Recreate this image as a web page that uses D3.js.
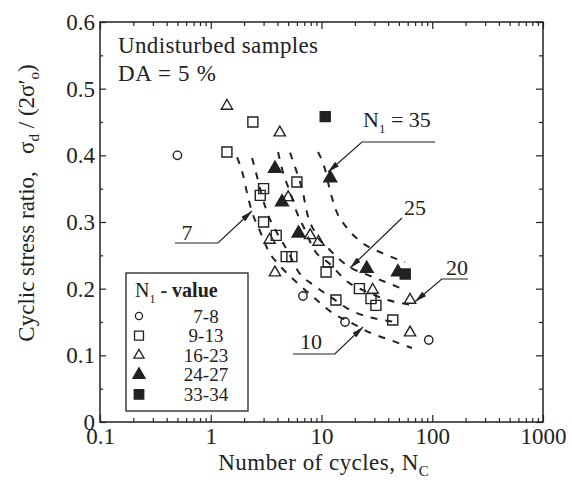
<!DOCTYPE html>
<html>
<head>
<meta charset="utf-8">
<script src="https://cdn.jsdelivr.net/npm/d3@7"></script>
<style>
body { margin: 0; background: #fff; }
text { font-family: "Liberation Serif", "Times New Roman", serif; fill: #222; }
</style>
</head>
<body>
<svg id="chart" width="572" height="485"></svg>
<script>
// tick values
const decades = [0.1, 1, 10, 100, 1000];
const ratioTicks = [0, 0.1, 0.2, 0.3, 0.4, 0.5, 0.6];

// data: [N cycles, stress ratio]
const nl7to8 = [[0.5, 0.40], [6.8, 0.189], [16.3, 0.150], [93, 0.123]];
const nl9to13 = [[1.4, 0.405], [2.4, 0.45], [2.8, 0.34], [3.0, 0.35], [3.0, 0.30], [3.9, 0.28],
	[4.8, 0.248], [5.4, 0.248], [6.0, 0.36], [11.5, 0.24], [11, 0.225], [13.5, 0.183],
	[22, 0.20], [28, 0.185], [31, 0.175], [44, 0.153]];
const nl16to23 = [[1.4, 0.474], [4.2, 0.434], [5.0, 0.337], [3.4, 0.273], [3.8, 0.224],
	[7.9, 0.28], [9.4, 0.27], [29, 0.198], [63, 0.183], [63, 0.134]];
const nl24to27 = [[3.8, 0.38], [4.4, 0.33], [6.2, 0.283], [12, 0.366], [25.6, 0.23], [49, 0.225]];
const nl33to34 = [[10.8, 0.458], [57, 0.222]];

const legendLabels = ["7-8", "9-13", "16-23", "24-27", "33-34"];

// dashed trend curves
const curveA = [[1.73, 0.397], [1.96, 0.370], [2.13, 0.343], [2.36, 0.315], [2.79, 0.286], [3.29, 0.258],
	[4.4, 0.231], [6.1, 0.208], [8.9, 0.184], [12.7, 0.163], [18.1, 0.150], [27.4, 0.134], [41.6, 0.123], [65.6, 0.111]];
const curveB = [[2.36, 0.396], [2.62, 0.368], [2.90, 0.339], [3.29, 0.311], [4.05, 0.281], [5.0, 0.255],
	[6.1, 0.227], [8.9, 0.203], [12.7, 0.185], [18.1, 0.168], [29.2, 0.156], [46, 0.15]];
const curveC = [[4.05, 0.405], [4.5, 0.374], [5.2, 0.345], [6.0, 0.314], [7.1, 0.288], [8.4, 0.261],
	[11.9, 0.237], [17.3, 0.21], [25.8, 0.195], [39.8, 0.183], [63, 0.176]];
const curveD = [[5.2, 0.404], [6.0, 0.374], [6.8, 0.344], [7.4, 0.314], [8.7, 0.285], [11.9, 0.258],
	[17.3, 0.234], [25.8, 0.221], [39, 0.209], [56.8, 0.198]];
const curveE = [[9.3, 0.405], [10.8, 0.378], [11.9, 0.348], [13.5, 0.318], [17, 0.291], [23.7, 0.268],
	[35.9, 0.253], [56.8, 0.24]];

// curve labels: text position and leader line (last point = arrow tip)
const labelText = ["7", "25", "20", "10"];
const labelPos = [[0.61, 0.273], [69.9, 0.3105], [167, 0.2205], [8.04, 0.1095]];
const labelLeaders = [
	[[0.475, 0.2685], [1.163, 0.2685], [2.357, 0.3165]],
	[[53.3, 0.306], [18.1, 0.231]],
	[[210, 0.2145], [122, 0.2145], [69.9, 0.1805]],
	[[5.53, 0.102], [13.2, 0.102], [23.7, 0.1425]]
];
const n35Pos = [23.7, 0.4425];
const n35Leader = [[106, 0.42], [23.2, 0.42], [11.45, 0.375]];

const svg = d3.select("#chart");
const width = +svg.attr("width");
const height = +svg.attr("height");
const margins = { top: 22, right: 29, bottom: 63, left: 100 };
const ink = "#222";

const x = d3.scaleLog().domain([0.1, 1000]).range([margins.left, width - margins.right]);
const y = d3.scaleLinear().domain([0, 0.6]).range([height - margins.bottom, margins.top]);

const minorX = x.ticks().filter((d) => !decades.includes(d));
const minorY = d3.range(0.05, 0.6, 0.1);

// axes: ticks point inwards on all four sides
const addAxis = function (axis, tx, ty) {
	const g = svg.append("g").attr("transform", "translate(" + tx + "," + ty + ")").call(axis);
	g.select(".domain").remove();
	g.selectAll("line").attr("stroke", ink).attr("stroke-width", 1.2);
	g.selectAll("text").attr("font-size", 23).attr("fill", ink).style("font-family", null);
	return g;
};
const yb = height - margins.bottom;
const xr = width - margins.right;

addAxis(d3.axisBottom(x).tickValues(decades).tickSizeInner(-7).tickSizeOuter(0).tickPadding(6)
	.tickFormat(d3.format("~g")), 0, yb);
addAxis(d3.axisBottom(x).tickValues(minorX).tickSizeInner(-4).tickSizeOuter(0).tickFormat(""), 0, yb);
addAxis(d3.axisTop(x).tickValues(decades).tickSizeInner(-7).tickSizeOuter(0).tickFormat(""), 0, margins.top);
addAxis(d3.axisTop(x).tickValues(minorX).tickSizeInner(-4).tickSizeOuter(0).tickFormat(""), 0, margins.top);
addAxis(d3.axisLeft(y).tickValues(ratioTicks).tickSizeInner(-6).tickSizeOuter(0).tickPadding(5)
	.tickFormat(d3.format("~g")), margins.left, 0);
addAxis(d3.axisLeft(y).tickValues(minorY).tickSizeInner(-3).tickSizeOuter(0).tickFormat(""), margins.left, 0);
addAxis(d3.axisRight(y).tickValues(ratioTicks).tickSizeInner(-7).tickSizeOuter(0).tickFormat(""), xr, 0);
addAxis(d3.axisRight(y).tickValues(minorY).tickSizeInner(-4).tickSizeOuter(0).tickFormat(""), xr, 0);

svg.append("rect")
	.attr("x", margins.left).attr("y", margins.top)
	.attr("width", xr - margins.left).attr("height", yb - margins.top)
	.attr("fill", "none").attr("stroke", ink).attr("stroke-width", 1.5);

// axis titles
const xTitle = svg.append("text").attr("x", (margins.left + xr) / 2 + 2).attr("y", 470)
	.attr("text-anchor", "middle").attr("font-size", 23);
xTitle.append("tspan").attr("textLength", 200).text("Number of cycles, N");
xTitle.append("tspan").attr("font-size", 15).attr("dy", 6).text("C");

const yTitle = svg.append("text").attr("transform", "translate(34,203) rotate(-90)")
	.attr("text-anchor", "middle").attr("font-size", 23);
yTitle.append("tspan").text("Cyclic stress ratio,\u00a0\u00a0 σ");
yTitle.append("tspan").attr("font-size", 15).attr("dy", 5).text("d");
yTitle.append("tspan").attr("dy", -5).text(" / (2σ′");
yTitle.append("tspan").attr("font-size", 15).attr("dy", 5).text("o");
yTitle.append("tspan").attr("dy", -5).text(")");

// in-plot header
svg.append("text").attr("x", 118).attr("y", 53).attr("font-size", 23)
	.attr("textLength", 200).text("Undisturbed samples");
svg.append("text").attr("x", 118).attr("y", 81).attr("font-size", 23)
	.attr("textLength", 98).text("DA = 5 %");

// dashed curves
const line = d3.line().x((d) => x(d[0])).y((d) => y(d[1])).curve(d3.curveMonotoneX);
svg.append("g")
	.selectAll("path")
	.data([curveA, curveB, curveC, curveD, curveE])
	.join("path")
	.attr("d", line)
	.attr("fill", "none")
	.attr("stroke", ink)
	.attr("stroke-width", 2)
	.attr("stroke-dasharray", "7,8");

// markers
const symCircle = d3.symbol(d3.symbolCircle, 55)();
const symSquare = d3.symbol(d3.symbolSquare, 100)();
const symTri = d3.symbol(d3.symbolTriangle, 55)();
const symTriBig = d3.symbol(d3.symbolTriangle, 72)();
const series = [
	{ data: nl7to8, path: symCircle, fill: "#fff" },
	{ data: nl9to13, path: symSquare, fill: "#fff" },
	{ data: nl16to23, path: symTri, fill: "#fff" },
	{ data: nl24to27, path: symTriBig, fill: ink },
	{ data: nl33to34, path: symSquare, fill: ink }
];
series.forEach((s) => {
	svg.append("g")
		.selectAll("path")
		.data(s.data)
		.join("path")
		.attr("d", s.path)
		.attr("transform", (d) => "translate(" + x(d[0]) + "," + y(d[1]) + ")")
		.attr("fill", s.fill)
		.attr("fill-opacity", s.fill === ink ? 1 : 0)
		.attr("stroke", ink)
		.attr("stroke-width", 1.4);
});

// curve labels with arrows
svg.append("defs").append("marker")
	.attr("id", "arrow")
	.attr("markerUnits", "userSpaceOnUse")
	.attr("viewBox", "0 0 12 6")
	.attr("markerWidth", 12).attr("markerHeight", 6)
	.attr("refX", 12).attr("refY", 3)
	.attr("orient", "auto")
	.append("path").attr("d", "M0,0L12,3L0,6z").attr("fill", ink);

const leaderLine = d3.line().x((d) => x(d[0])).y((d) => y(d[1]));
labelLeaders.concat([n35Leader]).forEach((pts) => {
	svg.append("path")
		.attr("d", leaderLine(pts))
		.attr("fill", "none")
		.attr("stroke", ink)
		.attr("stroke-width", 1.2)
		.attr("marker-end", "url(#arrow)");
});
svg.append("g")
	.selectAll("text")
	.data(labelText)
	.join("text")
	.attr("x", (d, i) => x(labelPos[i][0]))
	.attr("y", (d, i) => y(labelPos[i][1]))
	.attr("text-anchor", "middle")
	.attr("font-size", 22)
	.text((d) => d);

const n35 = svg.append("text").attr("x", x(n35Pos[0])).attr("y", y(n35Pos[1])).attr("font-size", 22);
n35.append("tspan").text("N");
n35.append("tspan").attr("font-size", 13).attr("dy", 6).text("1");
n35.append("tspan").attr("dy", -6).text(" = 35");

// legend
const legend = svg.append("g").attr("transform", "translate(126,273)");
legend.append("rect").attr("width", 122).attr("height", 138)
	.attr("fill", "#fff").attr("stroke", ink).attr("stroke-width", 1.3);
const lt = legend.append("text").attr("x", 9).attr("y", 24).attr("font-size", 20);
lt.append("tspan").text("N");
lt.append("tspan").attr("font-size", 12).attr("dy", 6).text("1");
lt.append("tspan").attr("dy", -6).attr("font-weight", "bold").text(" - value");

const legendSyms = [
	d3.symbol(d3.symbolCircle, 40)(),
	d3.symbol(d3.symbolSquare, 80)(),
	d3.symbol(d3.symbolTriangle, 45)(),
	d3.symbol(d3.symbolTriangle, 64)(),
	d3.symbol(d3.symbolSquare, 90)()
];
const rows = legend.selectAll("g.row")
	.data(legendLabels)
	.join("g")
	.attr("class", "row")
	.attr("transform", (d, i) => "translate(0," + (43 + i * 19.6) + ")");
rows.append("path")
	.attr("d", (d, i) => legendSyms[i])
	.attr("transform", "translate(13,0)")
	.attr("fill", (d, i) => (i >= 3 ? ink : "none"))
	.attr("stroke", ink)
	.attr("stroke-width", 1.3);
rows.append("text")
	.attr("x", 80)
	.attr("dy", "0.35em")
	.attr("text-anchor", "middle")
	.attr("font-size", 19)
	.text((d) => d);
</script>
</body>
</html>
